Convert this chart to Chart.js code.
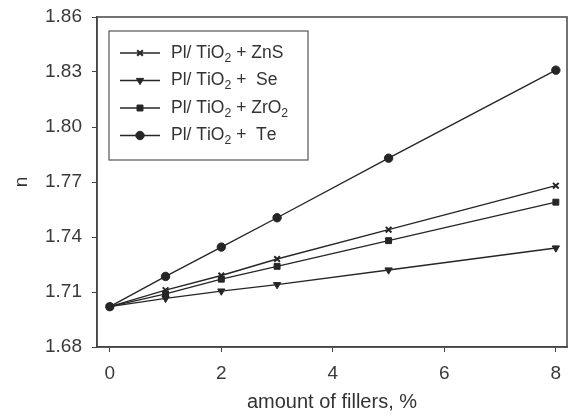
<!DOCTYPE html>
<html>
<head>
<meta charset="utf-8">
<script src="https://cdn.jsdelivr.net/npm/chart.js@4"></script>
<style>
	html, body { margin: 0; padding: 0; background: #fff; }
	#wrap { width: 573px; height: 418px; }
</style>
</head>
<body>
<div id="wrap"><canvas id="refractiveChart" width="573" height="418"></canvas></div>
<script>
const fillers = [0, 1, 2, 3, 5, 8];
const znsVals = [1.702, 1.711, 1.719, 1.728, 1.744, 1.768];
const seVals = [1.702, 1.7065, 1.7105, 1.714, 1.722, 1.734];
const zro2Vals = [1.702, 1.709, 1.717, 1.724, 1.738, 1.759];
const teVals = [1.702, 1.7185, 1.7345, 1.7505, 1.783, 1.831];
const seriesLabels = ['Pl/ TiO₂ + ZnS', 'Pl/ TiO₂ +  Se', 'Pl/ TiO₂ + ZrO₂', 'Pl/ TiO₂ +  Te'];
const xTicks = [0, 2, 4, 6, 8];
const yTicks = [1.68, 1.71, 1.74, 1.77, 1.80, 1.83, 1.86];

const FONT = 'Arial, "Liberation Sans", sans-serif';
const INK = '#262626';

function pts(vals) {
	return fillers.map((x, i) => ({ x: x, y: vals[i] }));
}

function series(label, vals, style, rot) {
	return {
		label: label,
		data: pts(vals),
		borderColor: INK,
		backgroundColor: INK,
		borderWidth: 1.4,
		pointStyle: style,
		pointRotation: rot || 0,
		pointRadius: style === 'crossRot' ? 4 : 4.2,
		pointBorderWidth: style === 'crossRot' ? 2 : 1,
		tension: 0,
		fill: false
	};
}

// draws text, turning ₂ into a lowered small 2
function drawSubText(ctx, text, x, y, size) {
	let cx = x;
	for (const ch of text) {
		if (ch === '₂') {
			ctx.font = (size * 0.7) + 'px ' + FONT;
			ctx.fillText('2', cx, y + size * 0.3);
			cx += ctx.measureText('2').width;
		} else {
			ctx.font = size + 'px ' + FONT;
			ctx.fillText(ch, cx, y);
			cx += ctx.measureText(ch).width;
		}
	}
}

const boxAndLegend = {
	id: 'boxAndLegend',
	afterDraw(chart) {
		const ctx = chart.ctx;
		const a = chart.chartArea;
		ctx.save();
		ctx.strokeStyle = '#444';
		ctx.lineWidth = 1.5;
		ctx.strokeRect(a.left, a.top, a.right - a.left, a.bottom - a.top);

		// legend box
		ctx.strokeStyle = '#555';
		ctx.lineWidth = 1.2;
		ctx.fillStyle = '#fff';
		ctx.fillRect(109, 31, 199, 129);
		ctx.strokeRect(109, 31, 199, 129);
		chart.data.datasets.forEach((ds, i) => {
			const y = 53 + i * 27.5;
			ctx.strokeStyle = INK;
			ctx.lineWidth = 1.4;
			ctx.beginPath();
			ctx.moveTo(120, y);
			ctx.lineTo(160, y);
			ctx.stroke();
			ctx.fillStyle = INK;
			ctx.lineWidth = ds.pointBorderWidth;
			Chart.helpers.drawPoint(ctx, {
				pointStyle: ds.pointStyle,
				rotation: ds.pointRotation,
				radius: ds.pointRadius,
				borderWidth: ds.pointBorderWidth
			}, 140, y);
			ctx.fillStyle = '#333';
			ctx.textBaseline = 'middle';
			ctx.textAlign = 'left';
			drawSubText(ctx, ds.label, 171, y, 17.5);
		});
		ctx.restore();
	}
};

const ctx = document.getElementById('refractiveChart').getContext('2d');
new Chart(ctx, {
	type: 'line',
	data: {
		datasets: [
			series(seriesLabels[0], znsVals, 'crossRot'),
			series(seriesLabels[1], seVals, 'triangle', 180),
			series(seriesLabels[2], zro2Vals, 'rect'),
			series(seriesLabels[3], teVals, 'circle')
		]
	},
	options: {
		responsive: false,
		animation: false,
		layout: { padding: { top: 17, right: 1, left: 0, bottom: 0 } },
		plugins: {
			legend: { display: false },
			tooltip: { enabled: false }
		},
		scales: {
			x: {
				type: 'linear',
				min: -0.23,
				max: 8.2,
				afterBuildTicks: (s) => { s.ticks = xTicks.map(v => ({ value: v })); },
				afterFit: (s) => { s.height = 71; s.paddingLeft = 0; s.paddingRight = 0; },
				grid: { display: true, drawOnChartArea: false, drawTicks: true, tickLength: 5, color: '#444' },
				border: { display: true, color: '#444', width: 1.5 },
				ticks: { color: '#3a3a3a', font: { family: FONT, size: 19 }, padding: 10 },
				title: { display: true, text: 'amount of fillers, %', color: '#333', font: { family: FONT, size: 20 }, padding: { top: 4 } }
			},
			y: {
				type: 'linear',
				min: 1.68,
				max: 1.86,
				afterBuildTicks: (s) => { s.ticks = yTicks.map(v => ({ value: v })); },
				afterFit: (s) => { s.width = 97; s.paddingTop = 0; s.paddingBottom = 0; },
				grid: { display: true, drawOnChartArea: false, drawTicks: true, tickLength: 5, color: '#444' },
				border: { display: true, color: '#444', width: 1.5 },
				ticks: { color: '#3a3a3a', font: { family: FONT, size: 19 }, padding: 10, callback: (v) => v.toFixed(2) },
				title: { display: true, text: 'n', color: '#333', font: { family: FONT, size: 19 }, padding: { top: 10, bottom: 0 } }
			}
		}
	},
	plugins: [boxAndLegend]
});
</script>
</body>
</html>
